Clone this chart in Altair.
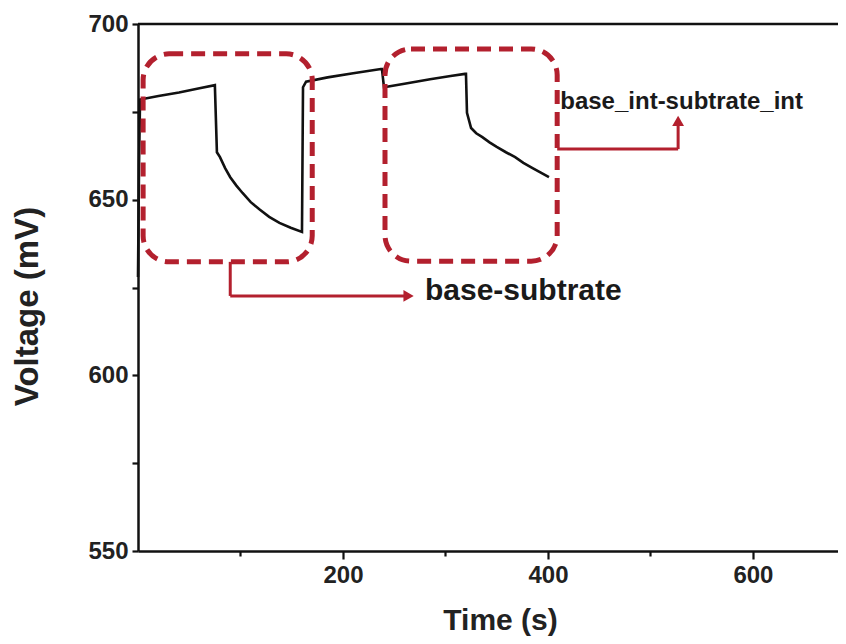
import altair as alt
import pandas as pd

# ---- data ----
time_s = [0, 1, 2, 20, 40, 60, 75,
          77, 80, 85, 90, 96, 102, 110, 119, 128, 138, 149, 160,
          161, 164, 185, 210, 237, 238, 240, 260, 285, 305, 319, 320,
          321, 325, 330, 336, 343, 350, 359, 368, 376, 385, 393, 401]
voltage = [628, 660, 678.5, 679.5, 680.5, 681.7, 682.6,
           663.5, 662.1, 659.0, 656.4, 654.0, 651.9, 649.3, 647.1, 645.1, 643.4, 642.0, 640.8,
           682.0, 683.6, 684.8, 686.0, 687.2, 687.2, 682.0, 683.0, 684.3, 685.2, 685.8, 685.8,
           674.7, 670.4, 668.9, 667.8, 666.3, 665.0, 663.5, 662.1, 660.5, 659.0, 657.7, 656.4]

# dashed highlight boxes (time / voltage extents)
box_t1 = [5, 241]
box_t2 = [170, 409]
box_v1 = [691.5, 692.9]
box_v2 = [632.3, 632.5]

# connector segments
seg_t1 = [90, 90, 409, 527]
seg_t2 = [90, 262, 527, 527]
seg_v1 = [632.3, 622.6, 664.4, 664.4]
seg_v2 = [622.6, 622.6, 664.4, 671.0]

# arrow heads
arrow_t = [264, 527]
arrow_v = [622.6, 672.4]
arrow_shape = ["triangle-right", "triangle-up"]

# labels
label_text = ["base-subtrate", "base_int-subtrate_int"]
label_t = [280, 412]
label_v = [624.0, 677.8]
label_size = [30, 24]

RED = "#b3202e"
FONT = "Liberation Sans"

curve = pd.DataFrame({"t": time_s, "v": voltage, "i": list(range(len(time_s)))})
boxes = pd.DataFrame({"t": box_t1, "t2": box_t2, "v": box_v1, "v2": box_v2})
segs = pd.DataFrame({"t": seg_t1, "t2": seg_t2, "v": seg_v1, "v2": seg_v2})
arrows = pd.DataFrame({"t": arrow_t, "v": arrow_v, "shape": arrow_shape})
labels = pd.DataFrame({"t": label_t, "v": label_v, "text": label_text, "size": label_size})

xscale = alt.Scale(domain=[0, 683], nice=False, zero=False)
yscale = alt.Scale(domain=[550, 700], nice=False, zero=False)

xaxis = alt.Axis(
    values=[100, 200, 300, 400, 500, 600],
    labelExpr="datum.value % 200 == 0 ? datum.label : ''",
    title="Time (s)", grid=False,
    tickSize={"condition": {"test": "datum.value % 200 == 0", "value": 8}, "value": 5},
    titleX=362, titleY=78, titleBaseline="alphabetic", titleAnchor="middle",
)
yaxis = alt.Axis(
    values=[550, 575, 600, 625, 650, 675, 700],
    labelExpr="datum.value % 50 == 0 ? datum.label : ''",
    title="Voltage (mV)", grid=False, tickSize=6,
    titleX=-111, titleY=282, titleAngle=270, titleBaseline="middle", titleAlign="center",
    titleFontSize=33,
)

line = alt.Chart(curve).mark_line(color="#111111", strokeWidth=2.6).encode(
    x=alt.X("t:Q", scale=xscale, axis=xaxis),
    y=alt.Y("v:Q", scale=yscale, axis=yaxis),
    order="i:Q",
)

top_rule = alt.Chart(pd.DataFrame({"v": [700]})).mark_rule(color="#111111", strokeWidth=2.5).encode(
    y=alt.Y("v:Q", scale=yscale),
)

box_layer = alt.Chart(boxes).mark_rect(
    fillOpacity=0, stroke=RED, strokeWidth=5, strokeDash=[14, 8], cornerRadius=26
).encode(
    x=alt.X("t:Q", scale=xscale), x2="t2:Q",
    y=alt.Y("v:Q", scale=yscale), y2="v2:Q",
)

seg_layer = alt.Chart(segs).mark_rule(color=RED, strokeWidth=3).encode(
    x=alt.X("t:Q", scale=xscale), x2="t2:Q",
    y=alt.Y("v:Q", scale=yscale), y2="v2:Q",
)

arrow_layer = alt.Chart(arrows).mark_point(filled=True, color=RED, opacity=1, size=140).encode(
    x=alt.X("t:Q", scale=xscale),
    y=alt.Y("v:Q", scale=yscale),
    shape=alt.Shape("shape:N", scale=None),
)

label_layer = alt.Chart(labels).mark_text(
    align="left", baseline="middle", font=FONT, fontWeight="bold", color="#1a1a1a"
).encode(
    x=alt.X("t:Q", scale=xscale),
    y=alt.Y("v:Q", scale=yscale),
    text="text:N",
    size=alt.Size("size:Q", scale=None),
)

chart = alt.layer(line, top_rule, box_layer, seg_layer, arrow_layer, label_layer).properties(
    width=700, height=527,
    autosize=alt.AutoSizeParams(type="none"),
    padding={"left": 130, "top": 16, "right": 0, "bottom": 86},
).configure_view(stroke=None).configure_axis(
    domainColor="#111111", domainWidth=2.5, tickColor="#111111", tickWidth=2.2,
    labelFont=FONT, labelFontWeight="bold", labelFontSize=24, labelColor="#222222",
    titleFont=FONT, titleFontWeight="bold", titleFontSize=30, titleColor="#222222",
    labelPadding=4,
)

chart.save("out.html", embed_options={"renderer": "svg", "actions": False})
